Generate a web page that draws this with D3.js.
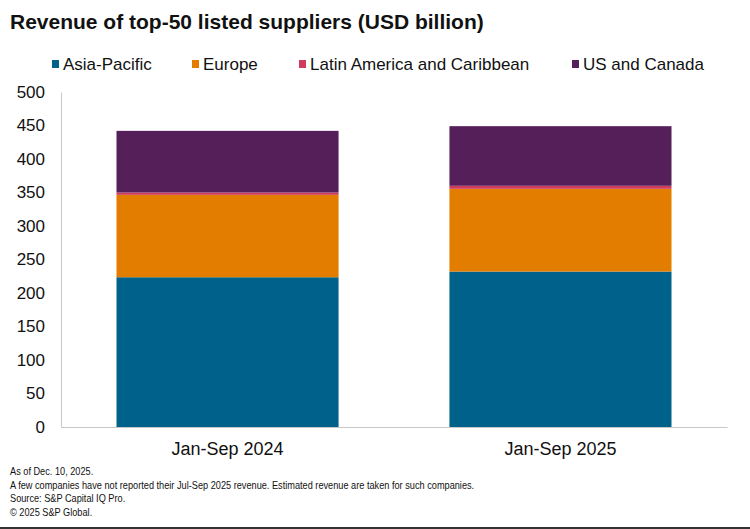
<!DOCTYPE html>
<meta charset="utf-8">
<script src="https://d3js.org/d3.v7.min.js"></script>
<style>
  body { margin: 0; background: #fff; }
  text { font-family: "Liberation Sans", Arial, sans-serif; fill: #111; }
</style>
<div id="chart"></div>
<script>
// data (USD billion)
var periods = ["Jan-Sep 2024", "Jan-Sep 2025"];
var regions = ["Asia-Pacific", "Europe", "Latin America and Caribbean", "US and Canada"];
var asiaPacific = [223.5, 232];
var europe = [123, 123.5];
var latam = [3.5, 4.5];
var usCanada = [92, 89];
var yTicks = [0, 50, 100, 150, 200, 250, 300, 350, 400, 450, 500];
var notes = [
  "As of Dec. 10, 2025.",
  "A few companies have not reported their Jul-Sep 2025 revenue. Estimated revenue are taken for such companies.",
  "Source: S&P Capital IQ Pro.",
  "\u00a9 2025 S&P Global."
];
var colors = ["#00628a", "#e27d00", "#cf3c5d", "#551f59"];

var W = 750, H = 529;
var margin = {top: 92, right: 23, bottom: 102, left: 61};
var width = W - margin.left - margin.right,
    height = H - margin.top - margin.bottom;

var svg = d3.select("#chart").append("svg")
  .attr("width", W).attr("height", H);

// title
svg.append("text")
  .attr("x", 10).attr("y", 29)
  .style("font-size", "21px").style("font-weight", "bold")
  .text("Revenue of top-50 listed suppliers (USD billion)");

// legend
var legendX = [52, 192, 299, 572];
var legend = svg.selectAll(".leg").data(regions).enter().append("g")
  .attr("transform", function(d, i) { return "translate(" + legendX[i] + ",64)"; });
legend.append("rect")
  .attr("x", 0).attr("y", -4).attr("width", 7).attr("height", 8)
  .attr("fill", function(d, i) { return colors[i]; });
legend.append("text")
  .attr("x", 11).attr("y", 6)
  .style("font-size", "17px")
  .text(function(d) { return d; });

var g = svg.append("g")
  .attr("transform", "translate(" + margin.left + "," + margin.top + ")");

var x = d3.scaleBand()
  .domain(periods)
  .range([0, width])
  .paddingInner(0.333)
  .paddingOuter(0.1667);

var y = d3.scaleLinear()
  .domain([0, 500])
  .range([height, 0]);

// stack
var table = periods.map(function(p, i) {
  return {period: p, "Asia-Pacific": asiaPacific[i], "Europe": europe[i],
          "Latin America and Caribbean": latam[i], "US and Canada": usCanada[i]};
});
var series = d3.stack().keys(regions)(table);

g.selectAll(".series").data(series).enter().append("g")
  .attr("fill", function(d, i) { return colors[i]; })
  .selectAll("rect").data(function(d) { return d; }).enter().append("rect")
    .attr("x", function(d) { return x(d.data.period); })
    .attr("y", function(d) { return y(d[1]); })
    .attr("height", function(d) { return y(d[0]) - y(d[1]); })
    .attr("width", x.bandwidth());

// y axis
var yAxis = g.append("g")
  .call(d3.axisLeft(y).tickValues(yTicks).tickSize(0).tickPadding(16));
yAxis.select(".domain").attr("stroke", "#c8c8c8");
yAxis.selectAll("text").style("font-size", "17px").style("font-family", "Liberation Sans, Arial, sans-serif").attr("fill", "#111");

// x axis
var xAxis = g.append("g")
  .attr("transform", "translate(0," + height + ")")
  .call(d3.axisBottom(x).tickSize(0).tickPadding(15).tickSizeOuter(0));
xAxis.select(".domain").attr("stroke", "#c8c8c8");
xAxis.selectAll("text").style("font-size", "18px").style("font-family", "Liberation Sans, Arial, sans-serif").attr("fill", "#111");

// notes (slightly condensed like the source)
svg.selectAll(".note").data(notes).enter().append("text")
  .attr("transform", function(d, i) { return "translate(10," + (475 + i * 13.5) + ") scale(0.92,1)"; })
  .style("font-size", "10px")
  .text(function(d) { return d; });

// bottom rule
svg.append("line")
  .attr("x1", 0).attr("x2", W)
  .attr("y1", 528).attr("y2", 528)
  .attr("stroke", "#333").attr("stroke-width", 2);
</script>
